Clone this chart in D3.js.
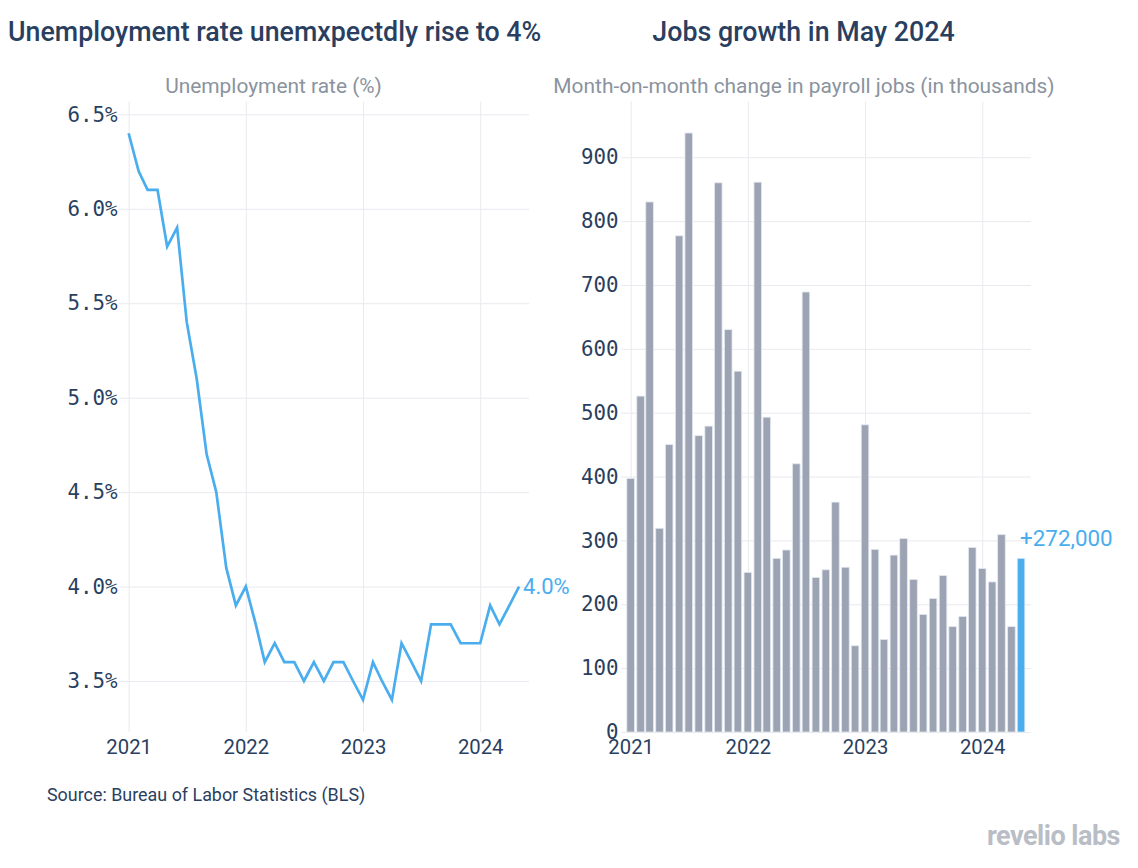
<!DOCTYPE html>
<html>
<head>
<meta charset="utf-8">
<script src="https://cdn.jsdelivr.net/npm/d3@7/dist/d3.min.js"></script>
<style>
  html, body { margin: 0; padding: 0; background: #fff; }
  svg { display: block; }
</style>
</head>
<body>
<div id="chart"></div>
<script>
// ---------- DATA ----------
const months = [
  "2021-01","2021-02","2021-03","2021-04","2021-05","2021-06","2021-07","2021-08","2021-09","2021-10","2021-11","2021-12",
  "2022-01","2022-02","2022-03","2022-04","2022-05","2022-06","2022-07","2022-08","2022-09","2022-10","2022-11","2022-12",
  "2023-01","2023-02","2023-03","2023-04","2023-05","2023-06","2023-07","2023-08","2023-09","2023-10","2023-11","2023-12",
  "2024-01","2024-02","2024-03","2024-04","2024-05"
];
const unemploymentRate = [
  6.4, 6.2, 6.1, 6.1, 5.8, 5.9, 5.4, 5.1, 4.7, 4.5, 4.1, 3.9,
  4.0, 3.8, 3.6, 3.7, 3.6, 3.6, 3.5, 3.6, 3.5, 3.6, 3.6, 3.5,
  3.4, 3.6, 3.5, 3.4, 3.7, 3.6, 3.5, 3.8, 3.8, 3.8, 3.7, 3.7,
  3.7, 3.9, 3.8, 3.9, 4.0
];
const payrollChange = [
  397, 526, 830, 319, 450, 777, 938, 464, 479, 860, 630, 565,
  250, 861, 493, 272, 285, 420, 689, 242, 254, 360, 258, 135,
  481, 286, 145, 277, 303, 239, 184, 209, 245, 165, 181, 289,
  256, 235, 309, 165, 272
];
const yearTicks = ["2021", "2022", "2023", "2024"];
const rateTicks = [3.5, 4.0, 4.5, 5.0, 5.5, 6.0, 6.5];
const jobsTicks = [0, 100, 200, 300, 400, 500, 600, 700, 800, 900];
const leftTitle = "Unemployment rate unemxpectdly rise to 4%";
const rightTitle = "Jobs growth in May 2024";
const leftSubtitle = "Unemployment rate (%)";
const rightSubtitle = "Month-on-month change in payroll jobs (in thousands)";
const rateLabel = "4.0%";
const jobsLabel = "+272,000";
const sourceText = "Source: Bureau of Labor Statistics (BLS)";
const logoText = "revelio labs";

// ---------- SETUP ----------
const W = 1138, H = 868;
const navy = "#2a3f5f";
const gridColor = "#e9e9ef";
const blue = "#4aadee";
const gray = "#9ca3b3";
const subColor = "#8a939e";
const monoFont = "'DejaVu Sans Mono', 'Liberation Mono', monospace";
const sansFont = "Roboto, 'Noto Sans', sans-serif";

const parse = d3.timeParse("%Y-%m");
const dates = months.map(parse);
const yearDates = yearTicks.map(d => d3.timeParse("%Y")(d));

const svg = d3.select("#chart").append("svg")
  .attr("width", W).attr("height", H)
  .style("font-family", sansFont);

const plotTop = 101.7, plotBottom = 732;
const xDomain = [new Date(2020, 11, 2), new Date(2024, 5, 1)];

// ---------- LEFT PANEL ----------
const xL = d3.scaleTime().domain(xDomain).range([119, 529]);
const yL = d3.scaleLinear().domain([3.23, 6.567]).range([plotBottom, plotTop]);

const gL = svg.append("g");
gL.append("g").attr("transform", `translate(${xL.range()[0]},0)`)
  .call(d3.axisLeft(yL).tickValues(rateTicks).tickSize(-(xL.range()[1] - xL.range()[0])).tickFormat(""))
  .call(g => g.select(".domain").remove())
  .call(g => g.selectAll("line").attr("stroke", gridColor).attr("stroke-width", 1));
gL.append("g").attr("transform", `translate(0,${plotTop})`)
  .call(d3.axisBottom(xL).tickValues(yearDates).tickSize(plotBottom - plotTop).tickFormat(""))
  .call(g => g.select(".domain").remove())
  .call(g => g.selectAll("line").attr("stroke", gridColor).attr("stroke-width", 1));
gL.append("g").attr("transform", `translate(117.5,0)`)
  .call(d3.axisLeft(yL).tickValues(rateTicks).tickSize(0).tickPadding(0).tickFormat(d => d.toFixed(1) + "%"))
  .call(g => g.select(".domain").remove())
  .call(g => g.selectAll("text").attr("fill", navy).style("font-family", monoFont).style("font-size", "20.8px"));
gL.append("g").attr("transform", `translate(0,${plotBottom})`)
  .call(d3.axisBottom(xL).tickValues(yearDates).tickSize(0).tickPadding(8).tickFormat(d3.timeFormat("%Y")))
  .call(g => g.select(".domain").remove())
  .call(g => g.selectAll("text").attr("fill", navy).style("font-family", sansFont).style("font-size", "20.3px"));

const line = d3.line().x((d, i) => xL(dates[i])).y(d => yL(d));
gL.append("path").datum(unemploymentRate)
  .attr("d", line).attr("fill", "none")
  .attr("stroke", blue).attr("stroke-width", 2.7).attr("stroke-linejoin", "miter");

const lastI = unemploymentRate.length - 1;
gL.append("text")
  .attr("x", xL(dates[lastI]) + 4).attr("y", yL(unemploymentRate[lastI]))
  .attr("dy", "0.35em").attr("fill", blue)
  .style("font-size", "22px").text(rateLabel);

// ---------- RIGHT PANEL ----------
const xR = d3.scaleTime().domain(xDomain).range([621, 1031]);
const yR = d3.scaleLinear().domain([0, 987]).range([plotBottom, plotTop]);

const gR = svg.append("g");
gR.append("g").attr("transform", `translate(${xR.range()[0]},0)`)
  .call(d3.axisLeft(yR).tickValues(jobsTicks).tickSize(-(xR.range()[1] - xR.range()[0])).tickFormat(""))
  .call(g => g.select(".domain").remove())
  .call(g => g.selectAll("line").attr("stroke", gridColor).attr("stroke-width", 1));
gR.append("g").attr("transform", `translate(0,${plotTop})`)
  .call(d3.axisBottom(xR).tickValues(yearDates).tickSize(plotBottom - plotTop).tickFormat(""))
  .call(g => g.select(".domain").remove())
  .call(g => g.selectAll("line").attr("stroke", gridColor).attr("stroke-width", 1));

const step = xR(new Date(2021, 1, 1)) - xR(new Date(2021, 0, 1));
const bw = step * 0.76;
gR.append("g").selectAll("rect").data(payrollChange).join("rect")
  .attr("x", (d, i) => xR(dates[i]) - bw / 2)
  .attr("width", bw)
  .attr("y", d => yR(d))
  .attr("height", d => yR(0) - yR(d))
  .attr("fill", (d, i) => i === payrollChange.length - 1 ? blue : gray)
  .attr("stroke", "#e3e8f1").attr("stroke-width", 0.8);

gR.append("g").attr("transform", `translate(618.5,0)`)
  .call(d3.axisLeft(yR).tickValues(jobsTicks).tickSize(0).tickPadding(0).tickFormat(d3.format("d")))
  .call(g => g.select(".domain").remove())
  .call(g => g.selectAll("text").attr("fill", navy).style("font-family", monoFont).style("font-size", "20.8px"));
gR.append("g").attr("transform", `translate(0,${plotBottom})`)
  .call(d3.axisBottom(xR).tickValues(yearDates).tickSize(0).tickPadding(8).tickFormat(d3.timeFormat("%Y")))
  .call(g => g.select(".domain").remove())
  .call(g => g.selectAll("text").attr("fill", navy).style("font-family", sansFont).style("font-size", "20.3px"));

const lastJ = payrollChange.length - 1;
gR.append("text")
  .attr("x", xR(dates[lastJ]) - 1).attr("y", yR(payrollChange[lastJ]) - 20)
  .attr("dy", "0.35em").attr("fill", blue)
  .style("font-size", "22.4px").text(jobsLabel);

// ---------- TITLES ----------
svg.append("text").attr("x", 8).attr("y", 41)
  .attr("fill", navy).style("font-size", "26.8px").style("font-weight", 500)
  .text(leftTitle);
svg.append("text").attr("x", 803.5).attr("y", 41).attr("text-anchor", "middle")
  .attr("fill", navy).style("font-size", "26.8px").style("font-weight", 500)
  .text(rightTitle);
svg.append("text").attr("x", 273.5).attr("y", 93).attr("text-anchor", "middle")
  .attr("fill", subColor).style("font-size", "20.9px")
  .text(leftSubtitle);
svg.append("text").attr("x", 804).attr("y", 93).attr("text-anchor", "middle")
  .attr("fill", subColor).style("font-size", "20.9px")
  .text(rightSubtitle);

svg.append("text").attr("x", 47).attr("y", 801)
  .attr("fill", navy).style("font-size", "17.9px")
  .text(sourceText);
svg.append("text").attr("x", 1120).attr("y", 845).attr("text-anchor", "end")
  .attr("fill", "#b9bdc5").style("font-size", "27px").style("font-weight", 700)
  .style("letter-spacing", "-0.5px")
  .text(logoText);
</script>
</body>
</html>
